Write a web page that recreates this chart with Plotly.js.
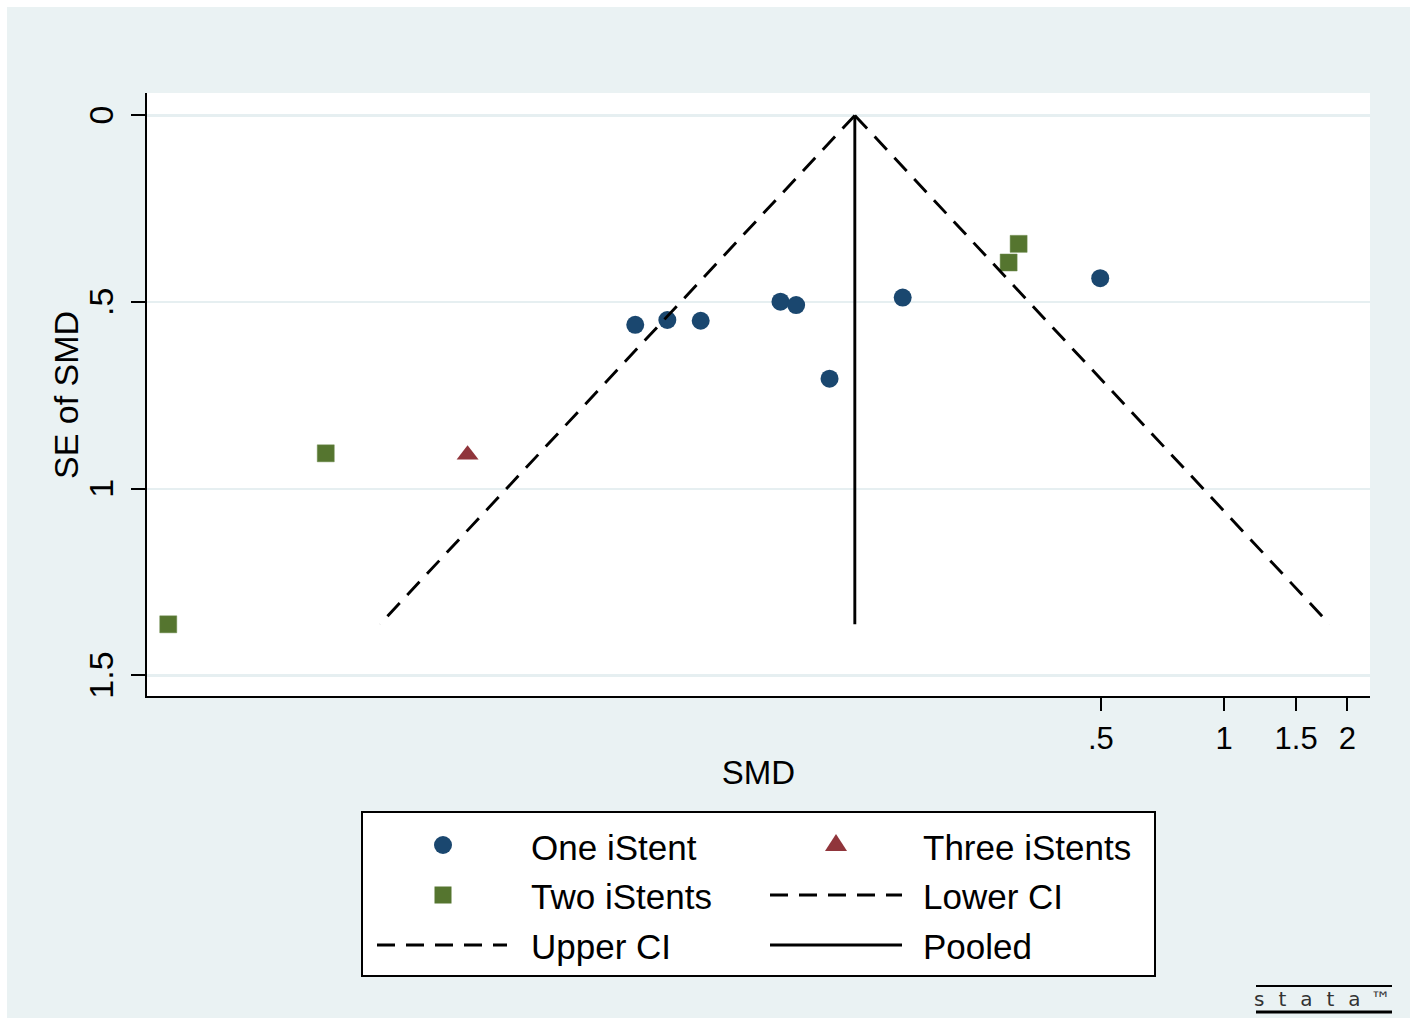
<!DOCTYPE html>
<html>
<head>
<meta charset="utf-8">
<script src="https://cdn.plot.ly/plotly-3.0.1.min.js"></script>
<style>
  html, body { margin: 0; padding: 0; background: #ffffff; }
  #chart { position: absolute; left: 7px; top: 7px; width: 1403px; height: 1011px; }
</style>
</head>
<body>
<div id="chart"></div>
<script>
// ---------------- data ----------------
const oneSMD = [0.0364, 0.0436, 0.0526, 0.0824, 0.0900, 0.1086, 0.1639, 0.498];
const oneSE  = [0.561, 0.548, 0.550, 0.499, 0.508, 0.705, 0.488, 0.436];

const twoSMD = [0.00638, 0.00263, 0.3147, 0.2975];
const twoSE  = [0.905, 1.363, 0.344, 0.394];

const threeSMD = [0.01417];
const threeSE  = [0.909];

const pooledSMD = [0.1252, 0.1252];
const funnelSE  = [0, 1.363];
const lowerCISMD = [0.1252, 0.00865];
const upperCISMD = [0.1252, 1.811];

const xTickVals = [0.5, 1, 1.5, 2];
const xTickText = ['.5', '1', '1.5', '2'];
const yTickVals = [0, 0.5, 1, 1.5];
const yTickText = ['0', '.5', '1', '1.5'];

const legendLeft  = ['One iStent', 'Two iStents', 'Upper CI'];
const legendRight = ['Three iStents', 'Lower CI', 'Pooled'];

// ---------------- styles ----------------
const NAVY = '#1a476f', GREEN = '#55752f', MAROON = '#90353b';
const FONT = 'Liberation Sans, Arial, Helvetica, sans-serif';
const DASH = '18px,11px';
const LW = 2.9;

const traces = [
  {x: oneSMD, y: oneSE, type: 'scatter', mode: 'markers', name: 'One iStent',
   marker: {symbol: 'circle', size: 18, color: NAVY, line: {width: 0}}},
  {x: twoSMD, y: twoSE, type: 'scatter', mode: 'markers', name: 'Two iStents',
   marker: {symbol: 'square', size: 17, color: GREEN, line: {width: 0.5, color: '#6d8a4c'}}},
  {x: threeSMD, y: threeSE, type: 'scatter', mode: 'markers', name: 'Three iStents',
   marker: {symbol: 'triangle-up', size: 19, color: MAROON, line: {width: 0}}},
  {x: lowerCISMD, y: funnelSE, type: 'scatter', mode: 'lines', name: 'Lower CI',
   line: {color: '#000', width: LW, dash: DASH}},
  {x: upperCISMD, y: funnelSE, type: 'scatter', mode: 'lines', name: 'Upper CI',
   line: {color: '#000', width: LW, dash: DASH}},
  {x: pooledSMD, y: funnelSE, type: 'scatter', mode: 'lines', name: 'Pooled',
   line: {color: '#000', width: LW}}
];

// convert reference-image pixel positions to paper coordinates (legend box, titles, logo)
const PL = 147, PR = 1370, PT = 93, PB = 696;
const px = v => (v - PL) / (PR - PL);
const py = v => (PB - v) / (PB - PT);

const shapes = [
  // legend frame
  {type: 'rect', xref: 'paper', yref: 'paper', x0: px(362), x1: px(1155), y0: py(812), y1: py(976),
   fillcolor: '#ffffff', line: {color: '#000', width: 2}, layer: 'above'},
  // legend symbols
  {type: 'circle', xref: 'paper', yref: 'paper', xsizemode: 'pixel', ysizemode: 'pixel',
   xanchor: px(443), yanchor: py(845), x0: -9, x1: 9, y0: -9, y1: 9,
   fillcolor: NAVY, line: {width: 0}},
  {type: 'rect', xref: 'paper', yref: 'paper', xsizemode: 'pixel', ysizemode: 'pixel',
   xanchor: px(443), yanchor: py(895), x0: -8.5, x1: 8.5, y0: -8.5, y1: 8.5,
   fillcolor: GREEN, line: {width: 0}},
  {type: 'path', xref: 'paper', yref: 'paper', xsizemode: 'pixel', ysizemode: 'pixel',
   xanchor: px(836), yanchor: py(844), path: 'M -11 -7 L 11 -7 L 0 10 Z',
   fillcolor: MAROON, line: {width: 0}},
  {type: 'line', xref: 'paper', yref: 'paper', x0: px(377), x1: px(507), y0: py(945), y1: py(945),
   line: {color: '#000', width: LW, dash: DASH}},
  {type: 'line', xref: 'paper', yref: 'paper', x0: px(770), x1: px(902), y0: py(895), y1: py(895),
   line: {color: '#000', width: LW, dash: DASH}},
  {type: 'line', xref: 'paper', yref: 'paper', x0: px(770), x1: px(902), y0: py(945), y1: py(945),
   line: {color: '#000', width: LW}},
  // stata logo rules
  {type: 'line', xref: 'paper', yref: 'paper', x0: px(1256), x1: px(1392), y0: py(986), y1: py(986),
   line: {color: '#000', width: 2}},
  {type: 'line', xref: 'paper', yref: 'paper', x0: px(1256), x1: px(1392), y0: py(1012), y1: py(1012),
   line: {color: '#000', width: 3}}
];

const rowsY = [847, 896, 946];
const annotations = [];
legendLeft.forEach((t, i) => annotations.push({
  xref: 'paper', yref: 'paper', x: px(529), y: py(rowsY[i]), xanchor: 'left', yanchor: 'middle',
  text: t, showarrow: false, font: {family: FONT, size: 35, color: '#000'}
}));
legendRight.forEach((t, i) => annotations.push({
  xref: 'paper', yref: 'paper', x: px(921), y: py(rowsY[i]), xanchor: 'left', yanchor: 'middle',
  text: t, showarrow: false, font: {family: FONT, size: 35, color: '#000'}
}));
// y-axis title
annotations.push({
  xref: 'paper', yref: 'paper', x: px(66), y: py(395), xanchor: 'center', yanchor: 'middle',
  text: 'SE of SMD', textangle: -90, showarrow: false,
  font: {family: FONT, size: 34, color: '#000'}
});
// logo text
annotations.push({
  xref: 'paper', yref: 'paper', x: px(1322), y: py(999), xanchor: 'center', yanchor: 'middle',
  text: 's\u2002\u2009t\u2002\u2009a\u2002\u2009t\u2002\u2009a\u2002\u2122', showarrow: false,
  font: {family: 'DejaVu Sans, sans-serif', size: 20, color: '#333'}
});

const layout = {
  width: 1403, height: 1011,
  margin: {l: 140, r: 40, t: 86, b: 322, pad: 0},
  paper_bgcolor: '#eaf2f3',
  plot_bgcolor: '#ffffff',
  showlegend: false,
  font: {family: FONT, color: '#000'},
  xaxis: {
    type: 'log', range: [-2.632, 0.3565],
    tickmode: 'array', tickvals: xTickVals, ticktext: xTickText,
    ticks: 'outside', ticklen: 13, tickwidth: 2, tickcolor: '#000',
    tickfont: {family: FONT, size: 31, color: '#000'},
    ticklabelstandoff: 1,
    showline: true, linecolor: '#000', linewidth: 2,
    showgrid: false, zeroline: false, automargin: false,
    title: {text: 'SMD', font: {family: FONT, size: 33, color: '#000'}, standoff: 6}
  },
  yaxis: {
    range: [1.555, -0.060],
    tickmode: 'array', tickvals: yTickVals,
    ticktext: yTickText.map(t => t + '\u00a0'),
    tickangle: -90,
    ticks: 'outside', ticklen: 14, tickwidth: 2, tickcolor: '#000',
    tickfont: {family: FONT, size: 34, color: '#000'},
    ticklabelstandoff: 4,
    showline: true, linecolor: '#000', linewidth: 2,
    showgrid: true, gridcolor: '#e6eff1', gridwidth: 2.5,
    zeroline: false, automargin: false
  },
  shapes: shapes,
  annotations: annotations
};

Plotly.newPlot('chart', traces, layout, {displayModeBar: false, staticPlot: true});
</script>
</body>
</html>
